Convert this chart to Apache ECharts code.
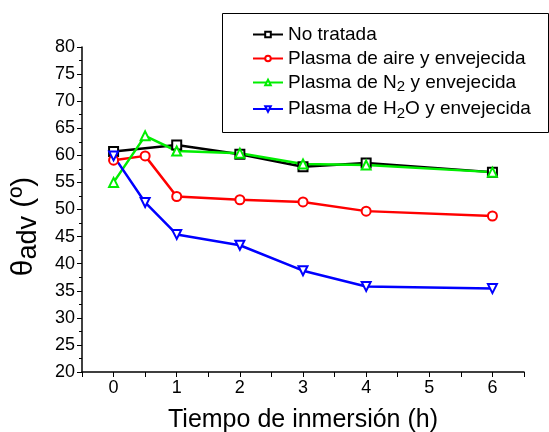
<!DOCTYPE html>
<html><head><meta charset="utf-8">
<script src="https://cdn.jsdelivr.net/npm/echarts@6/dist/echarts.min.js"></script>
<style>html,body{margin:0;padding:0;background:#fff}#c{width:549px;height:432px}</style>
</head><body><div id="c"></div>
<script>
var seriesNames = ['No tratada', 'Plasma de aire y envejecida', 'Plasma de N2 y envejecida', 'Plasma de H2O y envejecida'];
var xNoTratada = [0, 1, 2, 3, 4, 6];
var yNoTratada = [60.7, 61.9, 60.2, 57.9, 58.6, 56.9];
var xAire = [0, 0.5, 1, 2, 3, 4, 6];
var yAire = [59.1, 59.9, 52.4, 51.8, 51.4, 49.7, 48.8];
var xN2 = [0, 0.5, 1, 2, 3, 4, 6];
var yN2 = [55.0, 63.6, 60.8, 60.4, 58.4, 58.2, 56.9];
var xH2O = [0, 0.5, 1, 2, 3, 4, 6];
var yH2O = [59.9, 51.3, 45.4, 43.4, 38.7, 35.8, 35.4];
var xTickLabels = ['0', '1', '2', '3', '4', '5', '6'];

function pairs(xs, ys) { return xs.map(function (x, i) { return [x, ys[i]]; }); }
var FONT = 'Liberation Sans, Arial, Helvetica, sans-serif';
var chart = echarts.init(document.getElementById('c'), null, { renderer: 'canvas' });
function mk(name, xs, ys, color, symbol, rot) {
  return {
    name: name, type: 'line', data: pairs(xs, ys),
    symbol: symbol, symbolSize: 9, symbolRotate: rot || 0,
    lineStyle: { color: color, width: 2.5 },
    itemStyle: { color: color, borderColor: color, borderWidth: 1.2 },
    emphasis: { disabled: true }, animation: false
  };
}
var legendRich = {
  'No tratada': '{t|No tratada}',
  'Plasma de aire y envejecida': '{t|Plasma de aire y envejecida}',
  'Plasma de N2 y envejecida': '{t|Plasma de N}{s|2}{t| y envejecida}',
  'Plasma de H2O y envejecida': '{t|Plasma de H}{s|2}{t|O y envejecida}'
};
chart.setOption({
  animation: false,
  backgroundColor: '#fff',
  grid: { left: 82, top: 47, right: 25, bottom: 60, outerBoundsMode: 'none', containLabel: false },
  graphic: [{
    type: 'rect', left: 222, top: 13, silent: true, z: 0,
    shape: { width: 326, height: 119 },
    style: { fill: '#fff', stroke: '#000', lineWidth: 1 }
  }],
  legend: {
    data: seriesNames, orient: 'vertical', left: 252, top: 25, z: 10,
    padding: 0, itemGap: 5, itemWidth: 30, itemHeight: 7,
    formatter: function (n) { return legendRich[n]; },
    textStyle: {
      fontFamily: FONT, color: '#000', fontSize: 19,
      rich: {
        t: { fontFamily: FONT, fontSize: 19, color: '#000', lineHeight: 22 },
        s: { fontFamily: FONT, fontSize: 15, color: '#000', padding: [9, 0, 0, 0] }
      }
    }
  },
  xAxis: {
    type: 'value', min: -0.5, max: 6.5, interval: 0.5,
    name: 'Tiempo de inmersión (h)', nameLocation: 'middle', nameGap: 36,
    nameTextStyle: { fontFamily: FONT, fontSize: 25, color: '#000' },
    axisLine: { onZero: false, lineStyle: { color: '#000', width: 1.5 } },
    axisTick: { show: true, length: 5, lineStyle: { color: '#000', width: 1 } },
    axisLabel: {
      fontFamily: FONT, fontSize: 18, color: '#000', margin: 7,
      formatter: function (v) { return Number.isInteger(v) && v >= 0 ? xTickLabels[v] : ''; }
    },
    splitLine: { show: false }
  },
  yAxis: {
    type: 'value', min: 20, max: 80, interval: 5,
    name: '{a|θ}{b|adv}{a| (º)}', nameLocation: 'middle', nameGap: 40, nameRotate: 90,
    nameTextStyle: {
      fontFamily: FONT, color: '#000', padding: [0, 34, 0, 0],
      rich: {
        a: { fontFamily: FONT, fontSize: 30, color: '#000', lineHeight: 36 },
        b: { fontFamily: FONT, fontSize: 27, color: '#000', padding: [10, 0, 0, 0] }
      }
    },
    axisLine: { show: true, onZero: false, lineStyle: { color: '#000', width: 1.5 } },
    axisTick: { show: true, length: 5, lineStyle: { color: '#000', width: 1 } },
    minorTick: { show: true, splitNumber: 2, length: 3, lineStyle: { color: '#000', width: 1 } },
    axisLabel: { fontFamily: FONT, fontSize: 18, color: '#000', margin: 7 },
    splitLine: { show: false }
  },
  series: [
    mk(seriesNames[0], xNoTratada, yNoTratada, '#000000', 'emptyRect'),
    mk(seriesNames[1], xAire, yAire, '#ff0000', 'emptyCircle'),
    mk(seriesNames[2], xN2, yN2, '#00ee00', 'emptyTriangle'),
    mk(seriesNames[3], xH2O, yH2O, '#0000ff', 'emptyTriangle', 180)
  ]
});
</script></body></html>
